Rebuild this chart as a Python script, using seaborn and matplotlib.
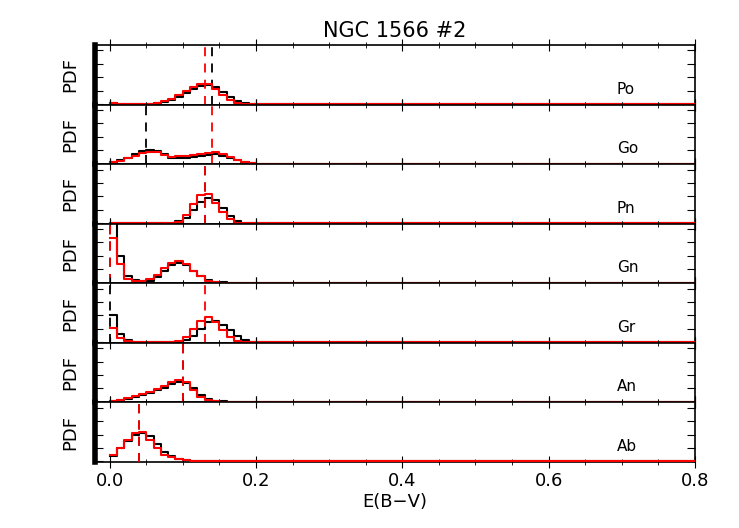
import numpy as np
import pandas as pd
import matplotlib
matplotlib.use("Agg")
import matplotlib.pyplot as plt
import seaborn as sns

labels = ["Po", "Go", "Pn", "Gn", "Gr", "An", "Ab"]
bins = np.round(np.arange(0, 0.20, 0.01), 2)

def pad(v):
    v = list(v) + [0.0] * (20 - len(v))
    return v[:20]

black = {
    "Po": [0.1,0.02,0.02,0.02,0.02,0.03,0.05,0.15,0.3,0.55,0.85,1.15,1.35,1.45,1.3,0.9,0.5,0.2,0.08,0.02],
    "Go": [0.1,0.25,0.45,0.7,0.95,1.05,0.95,0.7,0.45,0.4,0.45,0.5,0.6,0.65,0.7,0.6,0.45,0.25,0.1,0.03],
    "Pn": [0,0,0,0,0,0,0,0.01,0.05,0.15,0.4,1.0,1.6,1.9,1.7,1.1,0.5,0.15,0.03],
    "Gn": [4.6,2.0,0.5,0.2,0.1,0.15,0.4,0.9,1.3,1.5,1.3,0.9,0.5,0.2,0.08,0.03],
    "Gr": [2.0,0.6,0.2,0.03,0.03,0.03,0.03,0.03,0.03,0.05,0.2,0.5,1.0,1.5,1.6,1.3,0.9,0.45,0.15,0.05],
    "An": [0.1,0.15,0.25,0.4,0.55,0.7,0.85,1.05,1.3,1.45,1.4,1.0,0.55,0.25,0.1,0.03],
    "Ab": [0.4,1.0,1.5,2.0,2.1,1.9,1.3,0.7,0.4,0.2,0.1,0.05,0.02],
}
red = {
    "Po": [0.05,0.02,0.02,0.02,0.02,0.03,0.08,0.2,0.4,0.7,1.0,1.3,1.5,1.5,1.1,0.7,0.3,0.1,0.03],
    "Go": [0.1,0.2,0.4,0.6,0.8,0.9,0.85,0.65,0.5,0.55,0.6,0.65,0.75,0.8,0.85,0.75,0.5,0.3,0.1,0.03],
    "Pn": [0,0,0,0,0,0,0,0.01,0.03,0.1,0.6,1.4,2.1,2.2,1.5,0.8,0.3,0.05],
    "Gn": [3.3,1.4,0.3,0.15,0.1,0.25,0.6,1.1,1.5,1.65,1.4,0.9,0.5,0.15,0.05],
    "Gr": [1.1,0.35,0.1,0.03,0.03,0.03,0.03,0.03,0.05,0.1,0.4,1.0,1.6,1.9,1.5,0.9,0.4,0.1,0.03],
    "An": [0.1,0.15,0.3,0.45,0.6,0.75,0.95,1.2,1.5,1.65,1.5,0.9,0.4,0.15,0.05],
    "Ab": [0.5,1.0,1.6,2.1,2.2,1.6,1.0,0.5,0.3,0.15,0.08,0.03],
}
black_med = {"Po": 0.14, "Go": 0.05, "Pn": 0.13, "Gn": 0.0, "Gr": 0.0, "An": 0.10, "Ab": 0.04}
red_med = {"Po": 0.13, "Go": 0.14, "Pn": 0.13, "Gn": 0.0, "Gr": 0.13, "An": 0.10, "Ab": 0.04}

fig = plt.figure(figsize=(7.39, 5.28), dpi=100)
n = len(labels)
left, right, top, bottom = 95/739, 695/739, 1 - 45/528, 1 - 462/528
h = (top - bottom) / n
for i, lab in enumerate(labels):
    ax = fig.add_axes([left, top - (i + 1) * h, right - left, h])
    for key, vals, col, z in [("b", black[lab], "black", 2), ("r", red[lab], "red", 3)]:
        df = pd.DataFrame({"x": bins + 0.005, "w": pad(vals)})
        sns.histplot(data=df, x="x", weights="w", binwidth=0.01, binrange=(0, 0.8),
                     element="step", fill=False, color=col, ax=ax, linewidth=1.5, zorder=z)
    ax.axvline(black_med[lab], color="black", ls=(0, (5, 4)), lw=1.3, zorder=2)
    ax.axvline(red_med[lab], color="red", ls=(0, (5, 4)), lw=1.3, zorder=3)
    ax.set_xlim(-0.02, 0.8)
    ax.set_ylim(-0.04, 4.4)
    ax.set_yticks([0, 1, 2, 3, 4])
    ax.set_yticklabels([])
    ax.set_ylabel("PDF", fontsize=13, labelpad=8)
    ax.text(0.693, 0.26, lab, fontsize=11, ha="left", va="center",
            transform=ax.get_xaxis_transform())
    ax.set_xticks(np.arange(0, 0.81, 0.2))
    ax.set_xticks(np.arange(0, 0.81, 0.05), minor=True)
    ax.tick_params(axis="x", which="both", direction="inout", top=True, length=8)
    ax.tick_params(axis="x", which="minor", length=5)
    ax.tick_params(axis="y", direction="in", right=True, length=6)
    for s in ax.spines.values():
        s.set_linewidth(1.2)
    ax.spines["left"].set_linewidth(4)
    if i < n - 1:
        ax.set_xticklabels([])
        ax.set_xlabel("")
    else:
        ax.set_xticklabels(["0.0", "0.2", "0.4", "0.6", "0.8"], fontsize=13)
        ax.set_xlabel("E(B\u2212V)", fontsize=13, labelpad=2)
    if i == 0:
        ax.set_title("NGC 1566 #2", fontsize=15, pad=6)
fig.savefig("out.png", dpi=100)
